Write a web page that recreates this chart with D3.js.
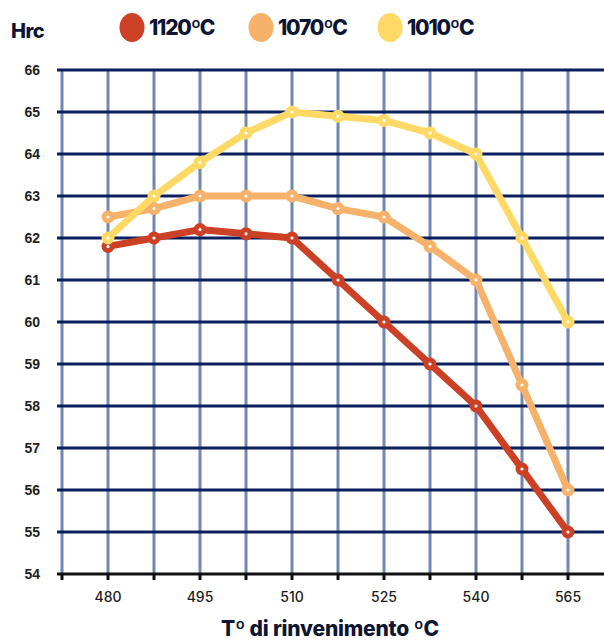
<!DOCTYPE html>
<html><head><meta charset="utf-8">
<script src="https://cdn.jsdelivr.net/npm/d3@7"></script>
<style>body{margin:0;background:#fff}svg{display:block}</style>
</head><body>
<svg id="c" width="604" height="642"></svg>
<script>
const categories = [480, 487.5, 495, 502.5, 510, 517.5, 525, 532.5, 540, 552.5, 565];
const tickLabels = ["480", "", "495", "", "510", "", "525", "", "540", "", "565"];
const seriesNames = ["1120ºC", "1070ºC", "1010ºC"];
const seriesColors = ["#cc4125", "#f6b26b", "#ffd966"];
const s1120 = [61.8, 62.0, 62.2, 62.1, 62.0, 61.0, 60.0, 59.0, 58.0, 56.5, 55.0];
const s1070 = [62.5, 62.7, 63.0, 63.0, 63.0, 62.7, 62.5, 61.8, 61.0, 58.5, 56.0];
const s1010 = [62.0, 63.0, 63.8, 64.5, 65.0, 64.9, 64.8, 64.5, 64.0, 62.0, 60.0];
const yTicks = [54, 55, 56, 57, 58, 59, 60, 61, 62, 63, 64, 65, 66];
const allSeries = [s1120, s1070, s1010];

(function () {
const svg = d3.select("#c");
const pL = 62, pR = 604, pT = 70, pB = 574;
const step = 46;
const x = d3.scaleLinear().domain([-1, 0]).range([pL, pL + step]);
const y = d3.scaleLinear().domain([54, 66]).range([pB, pT]);

const idx = d3.range(-1, 12).filter(i => x(i) <= pR);
// vertical grid
svg.append("g").selectAll("line").data(idx).join("line")
  .attr("x1", d => x(d)).attr("x2", d => x(d)).attr("y1", pT).attr("y2", pB)
  .attr("stroke", "#7186b0").attr("stroke-width", 3);
// horizontal grid
svg.append("g").selectAll("line").data(yTicks.filter(v => v > 54)).join("line")
  .attr("x1", pL - 5).attr("x2", pR).attr("y1", d => y(d)).attr("y2", d => y(d))
  .attr("stroke", "#0b1f5e").attr("stroke-width", 3);
// bottom axis
svg.append("line").attr("x1", pL - 5).attr("x2", pR).attr("y1", pB).attr("y2", pB)
  .attr("stroke", "#111").attr("stroke-width", 3);
svg.append("g").selectAll("line").data(idx).join("line")
  .attr("x1", d => x(d)).attr("x2", d => x(d)).attr("y1", pB).attr("y2", pB + 6)
  .attr("stroke", "#111").attr("stroke-width", 3);

// y labels
svg.append("g").selectAll("text").data(yTicks).join("text")
  .attr("x", 40).attr("y", d => y(d)).attr("dy", "0.35em").attr("text-anchor", "end")
  .attr("font-family", "Liberation Sans, Arial, sans-serif").attr("font-weight", "bold")
  .attr("font-size", 14).attr("fill", "#222").text(d => d);

// x labels
svg.append("g").selectAll("text").data(categories.map((c, i) => i)).join("text")
  .attr("x", d => x(d)).attr("y", 602).attr("text-anchor", "middle")
  .attr("font-family", "Inter, sans-serif").attr("font-weight", 500)
  .attr("font-size", 14).attr("fill", "#222").text(d => tickLabels[d]);

// lines
const line = d3.line().x((d, i) => x(i)).y(d => y(d));
allSeries.forEach((s, k) => {
  const g = svg.append("g");
  g.append("path").datum(s).attr("d", line).attr("fill", "none")
    .attr("stroke", seriesColors[k]).attr("stroke-width", 7).attr("stroke-linejoin", "round");
  g.selectAll("circle.m").data(s).join("circle").attr("class", "m")
    .attr("cx", (d, i) => x(i)).attr("cy", d => y(d)).attr("r", 6.5).attr("fill", seriesColors[k]);
  g.selectAll("circle.w").data(s).join("circle").attr("class", "w")
    .attr("cx", (d, i) => x(i)).attr("cy", d => y(d)).attr("r", 1.6).attr("fill", "#fff");
});

// title
svg.append("text").attr("x", 11).attr("y", 38).attr("font-family", "Inter, sans-serif")
  .attr("font-weight", 800).attr("font-size", 20).attr("letter-spacing", -0.5)
  .attr("fill", "#0d1533").text("Hrc");
// legend
const legX = [132, 261, 390];
seriesNames.forEach((n, k) => {
  svg.append("ellipse").attr("cx", legX[k]).attr("cy", 27.5).attr("rx", 12.5).attr("ry", 14.5)
    .attr("fill", seriesColors[k]);
  svg.append("text").attr("x", legX[k] + 17).attr("y", 34.5).attr("font-family", "Inter, sans-serif")
    .attr("font-weight", 800).attr("font-size", 21).attr("letter-spacing", -1.2)
    .attr("fill", "#0d1533").text(n);
});
// x title
svg.append("text").attr("x", 330).attr("y", 636).attr("text-anchor", "middle")
  .attr("font-family", "Inter, sans-serif").attr("font-weight", 800).attr("font-size", 21)
  .attr("letter-spacing", -0.2).attr("fill", "#0d1533").text("Tº di rinvenimento ºC");
})();
</script>
</body></html>
